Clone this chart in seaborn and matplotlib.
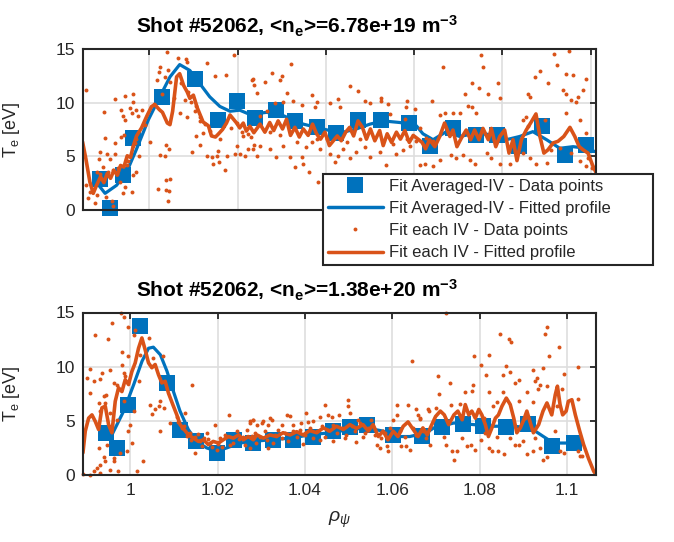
import numpy as np
import pandas as pd
import seaborn as sns
import matplotlib
matplotlib.use("Agg")
from matplotlib import pyplot as plt
from matplotlib.lines import Line2D

#%% data

# top panel: <ne> = 6.78e19
top_sq_x = [0.9889, 0.9912, 0.9940, 0.9964, 1.0028, 1.0103, 1.0156, 1.0198, 1.0240, 1.0287, 1.0331, 1.0380,
            1.0422, 1.0474, 1.0524, 1.0589, 1.0637, 1.0688, 1.0741, 1.0788, 1.0837, 1.0889, 1.0941, 1.0990]
top_sq_y = [2.85, 0.2, 3.3, 6.7, 10.55, 12.2, 8.4, 10.2, 8.6, 9.35, 8.3, 7.7,
            7.2, 8.4, 8.35, 8.1, 6.0, 7.6, 6.95, 7.0, 5.95, 7.8, 5.15, 6.1]

top_fit_x = [0.9880, 0.9900, 0.9926, 0.9949, 0.9971, 0.9998, 1.0024, 1.0047, 1.0069, 1.0092, 1.0115, 1.0137,
             1.0160, 1.0183, 1.0205, 1.0228, 1.0266, 1.0303, 1.0349, 1.0379, 1.0409, 1.0439, 1.0469, 1.0500,
             1.0530, 1.0568, 1.0605, 1.0620, 1.0643, 1.0673, 1.0703, 1.0740, 1.0779, 1.0809, 1.0839, 1.0869,
             1.0900, 1.0930, 1.0960, 1.0990, 1.1009]
top_fit_y = [2.6, 1.55, 2.3, 3.55, 5.65, 8.4, 10.55, 12.4, 13.55, 13.0, 11.75, 10.55,
             9.65, 9.2, 9.3, 8.9, 9.1, 8.8, 8.0, 7.7, 7.4, 7.25, 7.55, 8.0,
             8.3, 8.15, 7.85, 7.1, 6.55, 7.3, 6.85, 7.15, 7.0, 6.55, 6.85, 7.3,
             6.55, 5.75, 5.9, 5.75, 5.45]

top_line_x = [0.9849, 0.98566, 0.98656, 0.98732, 0.98807, 0.98898, 0.98973, 0.99049, 0.99124, 0.9920, 0.99275,
              0.99351, 0.99426, 0.99502, 0.99577, 0.99638, 0.99713, 0.99826, 0.9994, 1.00053, 1.0013, 1.0023,
              1.0030, 1.0041, 1.0047, 1.0053, 1.0062, 1.0069, 1.0078, 1.0086, 1.0092, 1.0100, 1.0109, 1.0115,
              1.0122, 1.0134, 1.0141, 1.0150, 1.0156, 1.0166, 1.0175, 1.0183, 1.0190, 1.0198, 1.0205, 1.0213,
              1.0220, 1.0228, 1.0237, 1.0251, 1.0262, 1.0273, 1.0282, 1.0292, 1.0302, 1.0311, 1.0320, 1.0330,
              1.0340, 1.0349, 1.0360, 1.0370, 1.0379, 1.0388, 1.0398, 1.0408, 1.0417, 1.0426, 1.0435, 1.0445,
              1.0454, 1.0463, 1.0473, 1.0483, 1.0492, 1.0501, 1.0511, 1.0522, 1.0530, 1.0539, 1.0549, 1.0560,
              1.0569, 1.0579, 1.0589, 1.0598, 1.0609, 1.0618, 1.0626, 1.0635, 1.0647, 1.0658, 1.0669, 1.0681,
              1.0688, 1.0697, 1.0707, 1.0718, 1.0728, 1.0737, 1.0747, 1.0756, 1.0768, 1.0775, 1.0785, 1.0794,
              1.0805, 1.0815, 1.0824, 1.0833, 1.0843, 1.0854, 1.0866, 1.0876, 1.0885, 1.0894, 1.0903, 1.0915,
              1.0926, 1.0939, 1.0953, 1.0964, 1.0974, 1.0983, 1.0994, 1.1004, 1.1012]
top_line_y = [6.35, 4.75, 2.6, 1.55, 2.3, 3.1, 2.55, 3.4, 2.95, 3.7, 3.25,
              4.15, 4.0, 5.05, 4.9, 5.95, 6.9, 7.65, 8.7, 9.65, 9.8, 9.35,
              9.1, 8.1, 7.95, 9.2, 12.4, 12.7, 11.6, 11.0, 10.4, 10.7, 9.5, 8.9,
              8.2, 7.85, 6.9, 6.8, 7.05, 7.5, 8.1, 8.85, 8.5, 8.1, 7.65, 8.1,
              7.35, 7.8, 7.2, 8.0, 7.25, 8.15, 7.4, 8.3, 7.55, 8.45, 6.95, 7.7,
              6.8, 7.55, 6.95, 8.0, 7.1, 6.6, 7.25, 6.0, 6.45, 6.9, 6.45, 7.25,
              7.7, 6.9, 8.3, 7.7, 6.6, 7.55, 6.45, 7.4, 6.0, 7.1, 6.3, 7.25,
              6.6, 7.4, 6.3, 6.95, 6.6, 6.3, 5.7, 6.55, 5.9, 6.85, 8.1, 6.85,
              7.45, 5.9, 6.7, 7.45, 6.55, 7.45, 6.55, 7.6, 6.55, 7.6, 5.9, 6.85,
              7.45, 5.3, 6.55, 4.6, 6.55, 7.45, 8.25, 8.95, 6.85, 5.3, 5.6, 6.25,
              6.4, 6.85, 7.7, 6.85, 5.9, 5.6, 5.3, 4.2, 3.5]

top_dot_x = [0.9857, 1.0041, 1.0066, 1.0083, 1.0086, 1.0024, 1.0023, 1.0043, 1.0035, 1.0048, 1.0017, 1.0131,
             1.0150, 1.0175, 1.0192, 1.0233, 1.0237, 0.9922, 0.9964, 0.9964, 0.9946, 0.9898, 0.9937, 0.9956,
             0.9960, 0.9971, 0.9975, 0.9983, 0.9945, 0.9940, 0.9899, 0.9937, 0.9943, 0.9922, 1.0002, 1.0038,
             1.0045, 1.0024, 1.0035, 0.9971, 0.9964, 0.9976, 0.9888, 0.9905, 0.9911, 0.9922, 0.9887, 0.9896,
             0.9881, 0.9888, 0.9907, 0.9919, 0.9926, 0.9949, 0.9964, 0.9971, 0.9934, 0.9945, 0.9960, 0.9940,
             0.9862, 0.9881, 0.9877, 0.9903, 0.9915, 0.9919, 0.9857, 0.9866, 1.0020, 1.0039, 1.0047, 1.0038,
             1.0045, 1.0043, 1.0096, 1.0107, 1.0121, 1.0115, 1.0132, 1.0143, 1.0153, 1.0156, 1.0145, 1.0158,
             1.0171, 1.0177, 1.0195, 1.0205, 1.0217, 1.0198, 1.0237, 1.0243, 1.0224, 1.0198, 1.0213, 1.0224,
             1.0081, 1.0088, 1.0107, 1.0103, 1.0116, 1.0085, 1.0069, 1.0115, 0.9930, 0.9952, 0.9968, 0.9990,
             1.0010, 1.0030, 1.0056, 1.0073, 1.0095, 1.0126, 1.0138, 1.0161, 1.0186, 1.0210, 1.0230,
             1.0235, 1.0262, 1.0277, 1.0296, 1.0300, 1.0322, 1.0311, 1.0326, 1.0243, 1.0284, 1.0303, 1.0345,
             1.0368, 1.0379, 1.0375, 1.0409, 1.0428, 1.0454, 1.0473, 1.0488, 1.0499, 1.0524, 1.0526, 1.0541,
             1.0583, 1.0581, 1.0602, 1.0579, 1.0545, 1.0432, 1.0250, 1.0266, 1.0235, 1.0251, 1.0273, 1.0288,
             1.0303, 1.0318, 1.0330, 1.0349, 1.0361, 1.0345, 1.0368, 1.0386, 1.0383, 1.0409, 1.0420, 1.0428,
             1.0439, 1.0454, 1.0469, 1.0488, 1.0499, 1.0522, 1.0537, 1.0560, 1.0575, 1.0590, 1.0613, 1.0273,
             1.0296, 1.0334, 1.0356, 1.0379, 1.0402, 1.0447, 1.0477, 1.0553, 1.0583, 1.0605,
             1.0666, 1.0752, 1.0756, 1.0730, 1.0715, 1.0747, 1.0768, 1.0791, 1.0795, 1.0640, 1.0722, 1.0730,
             1.0741, 1.0858, 1.0862, 1.0873, 1.0886, 1.0903, 1.0916, 1.0924, 1.0945, 1.0959, 1.0951, 1.0937,
             1.0945, 1.0966, 1.0983, 1.0990, 1.0956, 1.0971, 1.0847, 1.0854, 1.0858, 1.0896, 1.0945, 1.0975,
             1.0990, 1.0613, 1.0628, 1.0643, 1.0658, 1.0669, 1.0688, 1.0703, 1.0658, 1.0624, 1.0643, 1.0684,
             1.0696, 1.0711, 1.0726, 1.0737, 1.0764, 1.0775, 1.0794, 1.0817, 1.0832, 1.0847, 1.0862, 1.0877,
             1.0900, 1.0911, 1.0930, 1.0956, 1.0975, 1.0990, 1.1002, 1.0994]
top_dot_y = [11.2, 14.75, 14.2, 14.05, 13.8, 13.35, 12.85, 13.0, 12.4, 11.9, 12.1, 13.7,
             12.45, 12.6, 14.4, 12.15, 11.6, 10.3, 10.85, 10.1, 10.6, 9.1, 9.3, 9.5,
             9.0, 9.3, 8.8, 9.3, 8.4, 8.8, 6.75, 6.8, 6.95, 6.2, 6.3, 6.05,
             5.7, 5.1, 5.05, 6.65, 6.0, 5.05, 5.4, 5.2, 4.75, 5.2, 4.75, 4.0,
             3.55, 3.4, 3.55, 3.7, 3.4, 4.15, 3.25, 3.55, 2.6, 2.15, 1.7, 1.55,
             1.1, 1.4, 0.65, 1.25, 0.8, 0.35, 2.3, 1.7, 2.0, 2.75, 2.9, 1.85,
             1.75, 0.8, 5.45, 6.9, 7.15, 6.05, 5.0, 4.95, 5.0, 5.5, 4.3, 4.5,
             3.7, 5.05, 5.2, 5.2, 5.05, 6.0, 6.05, 5.05, 5.65, 8.1, 6.9, 7.05,
             10.25, 11.0, 9.65, 9.2, 8.7, 8.65, 9.0, 8.25, 3.9, 4.6, 6.2, 7.9,
             9.9, 10.8, 10.4, 11.8, 10.1, 8.0, 7.4, 6.6, 7.6, 7.3, 6.8,
             12.2, 11.9, 12.75, 12.1, 12.45, 13.6, 10.9, 10.15, 10.9, 10.0, 10.05, 9.75,
             10.75, 10.05, 9.55, 10.0, 10.3, 11.55, 11.05, 10.15, 10.0, 10.45, 10.2, 9.85,
             10.15, 9.55, 9.4, 8.45, 8.95, 9.55, 8.75, 9.25, 5.7, 6.0, 5.7, 4.95,
             6.0, 4.95, 4.0, 4.3, 3.55, 4.95, 6.3, 5.7, 2.65, 5.25, 4.5, 5.05,
             5.7, 4.8, 5.4, 5.85, 4.95, 5.4, 4.2, 5.25, 5.55, 6.0, 4.2, 7.25,
             6.95, 6.3, 5.85, 6.6, 6.6, 6.3, 6.6, 6.15, 6.6, 6.45,
             13.3, 14.4, 13.35, 11.8, 10.85, 11.35, 10.85, 11.8, 10.4, 10.15, 9.65, 9.55,
             9.0, 10.8, 10.55, 12.4, 12.95, 11.8, 14.5, 13.5, 12.7, 12.55, 14.8, 11.15,
             10.85, 10.1, 11.15, 12.25, 10.25, 10.55, 8.4, 8.7, 7.8, 8.4, 9.0, 8.4,
             7.15, 7.6, 6.7, 6.4, 8.85, 9.0, 9.0, 9.0, 4.7, 4.25, 4.1, 5.15,
             4.85, 5.15, 4.7, 4.25, 5.3, 4.85, 4.25, 4.25, 5.45, 5.3, 4.85, 4.25,
             4.4, 5.6, 5.75, 5.3, 4.55, 4.1, 3.9, 4.85]

# bottom panel: <ne> = 1.38e20
bot_sq_x = [0.9945, 0.9969, 0.9996, 1.0023, 1.0084, 1.0114, 1.0150, 1.0198, 1.0238, 1.0282, 1.0328, 1.0373,
            1.0419, 1.0465, 1.0503, 1.0541, 1.0602, 1.0667, 1.0713, 1.0761, 1.0808, 1.0860, 1.0910, 1.0965, 1.1015]
bot_sq_y = [3.9, 2.5, 6.5, 13.8, 8.5, 4.2, 3.1, 2.0, 3.2, 3.0, 3.2, 3.2,
            3.5, 4.1, 4.4, 4.6, 3.7, 3.6, 4.4, 4.7, 4.5, 4.4, 4.7, 2.7, 3.0]

bot_fit_x = [0.9936, 0.9958, 0.9985, 1.0008, 1.0027, 1.0042, 1.0053, 1.0069, 1.0084, 1.0099, 1.0114, 1.0133,
             1.0152, 1.0175, 1.0198, 1.0221, 1.0251, 1.0282, 1.0320, 1.0366, 1.0411, 1.0457, 1.0503, 1.0541,
             1.0579, 1.0610, 1.0640, 1.0678, 1.0695, 1.0741, 1.0787, 1.0832, 1.0878, 1.0916, 1.0946, 1.0969,
             1.1000, 1.1030]
bot_fit_y = [4.3, 3.7, 5.9, 8.35, 10.5, 11.7, 11.8, 11.1, 9.6, 7.7, 5.9, 4.2,
             3.1, 2.5, 2.2, 2.5, 2.95, 3.1, 3.25, 3.4, 3.7, 3.9, 4.2, 4.35,
             4.05, 3.55, 3.55, 3.9, 4.35, 4.8, 4.65, 4.5, 4.5, 4.35, 3.55, 2.95,
             2.95, 3.1]

bot_line_x = [0.98918, 0.98971, 0.99048, 0.99124, 0.9920, 0.99276, 0.99352, 0.99429, 0.99505, 0.99581, 0.99657,
              0.99733, 0.9981, 0.99886, 0.99962, 1.00038, 1.00114, 1.0019, 1.00267, 1.00343, 1.00419, 1.00495,
              1.00571, 1.00648, 1.00724, 1.0080, 1.00876, 1.00975, 1.01067, 1.01143, 1.01234, 1.01333, 1.01448,
              1.01562, 1.01676, 1.0179, 1.0190, 1.0202, 1.0213, 1.0225, 1.0236, 1.0248, 1.0259, 1.0270,
              1.0282, 1.0290, 1.0305, 1.0320, 1.0335, 1.0350, 1.0366, 1.0381, 1.0396, 1.0411, 1.0427, 1.0442,
              1.0457, 1.0472, 1.0488, 1.0503, 1.0518, 1.0533, 1.0545, 1.0556, 1.0568, 1.0579, 1.0590, 1.0602,
              1.0613, 1.0625, 1.0636, 1.0648, 1.0659, 1.0670, 1.0680, 1.0687, 1.0699, 1.0710, 1.0719, 1.0729,
              1.0741, 1.0750, 1.0760, 1.0767, 1.0775, 1.0782, 1.0790, 1.0798, 1.0805, 1.0813, 1.0820, 1.0828,
              1.0836, 1.0843, 1.0851, 1.0861, 1.0870, 1.0878, 1.0885, 1.0893, 1.0901, 1.0908, 1.0916, 1.0923,
              1.0935, 1.0945, 1.0954, 1.0965, 1.0973, 1.0978, 1.0984, 1.0990, 1.0998, 1.1003, 1.1011, 1.1019,
              1.1029, 1.1038, 1.1049, 1.1061, 1.1067]
bot_line_y = [2.05, 4.05, 5.25, 5.55, 4.95, 4.2, 6.2, 6.35, 4.65, 3.9, 6.8,
              8.05, 7.7, 8.8, 8.35, 9.55, 10.35, 11.7, 12.65, 11.55, 10.35, 9.9,
              10.2, 9.25, 8.5, 8.65, 7.55, 6.5, 5.55, 4.65, 4.2, 3.7, 3.4,
              3.1, 3.25, 2.8, 3.1, 2.95, 3.25, 3.55, 3.4, 3.7, 3.25, 3.55,
              3.25, 3.7, 3.4, 3.7, 3.55, 3.9, 3.7, 4.0, 3.7, 4.1, 3.9, 4.35,
              4.05, 4.5, 4.2, 4.65, 4.3, 4.65, 4.05, 4.65, 3.55, 4.05, 3.25, 4.05,
              3.55, 4.5, 4.9, 4.2, 3.55, 4.35, 3.7, 4.35, 5.4, 5.9, 5.55, 4.65,
              5.55, 5.9, 5.1, 6.5, 5.55, 5.9, 5.25, 6.05, 5.55, 4.65, 3.55, 4.35,
              5.25, 5.55, 6.35, 7.1, 6.5, 5.25, 3.9, 4.35, 5.1, 5.9, 4.8, 3.9,
              4.65, 5.9, 6.65, 5.55, 7.4, 8.2, 6.5, 5.55, 5.9, 6.8, 6.95, 5.55,
              4.05, 2.8, 1.55, 0.35, 0.0]

bot_dot_x = [0.9979, 0.9985, 0.9958, 0.9996, 0.9920, 0.9948, 1.0008, 1.0011, 1.0042, 0.9981, 0.9996, 0.9981,
             1.0023, 1.0053, 1.0075, 0.9907, 0.9935, 0.9954, 0.9901, 0.9916, 0.9931, 0.9962, 0.9970, 0.9985,
             0.9989, 1.0019, 0.9909, 0.9939, 0.9945, 0.9928, 0.9943, 0.9931, 0.9954, 0.9985, 1.0008, 0.9970,
             1.0141, 1.0046, 1.0069, 1.0065, 1.0057, 1.0050, 1.0078, 1.0091, 1.0069, 1.0107, 1.0126, 1.0122,
             1.0137, 1.0149, 1.0149, 1.0168, 1.0183, 1.0198, 1.0206, 1.0225, 1.0229, 1.0244, 1.0259, 1.0267,
             1.0274, 1.0282, 1.0290, 1.0194, 1.0175, 1.0160, 0.9893, 0.9909, 0.9916, 0.9924, 0.9931, 0.9943,
             0.9954, 0.9962, 0.9973, 0.9931, 0.9939, 0.9962, 0.9977, 0.9992, 1.0004, 1.0030, 1.0015, 0.9947,
             0.9928, 1.0000, 0.9996, 1.0110, 1.0118, 1.0130, 1.0140, 1.0155, 1.0165, 1.0178, 1.0188, 1.0200,
             1.0210, 1.0218, 1.0235, 1.0250, 1.0262, 1.0278, 1.0288,
             1.0644, 1.0447, 1.0498, 1.0499, 1.0503, 1.0478, 1.0610, 1.0636, 1.0655, 1.0682, 1.0659, 1.0663,
             1.0610, 1.0602, 1.0320, 1.0358, 1.0366, 1.0324, 1.0305, 1.0282, 1.0402, 1.0434, 1.0453, 1.0461,
             1.0522, 1.0552, 1.0419, 1.0408, 1.0390, 1.0373, 1.0347, 1.0316, 1.0301, 1.0274, 1.0274, 1.0316,
             1.0328, 1.0396, 1.0434, 1.0465, 1.0491, 1.0518, 1.0533, 1.0564, 1.0571, 1.0590, 1.0621, 1.0632,
             1.0640, 1.0587, 1.0286, 1.0297, 1.0309, 1.0312, 1.0331, 1.0339, 1.0347, 1.0354, 1.0362, 1.0373,
             1.0381, 1.0389, 1.0400, 1.0411, 1.0419, 1.0427, 1.0438, 1.0446, 1.0453, 1.0465, 1.0474, 1.0484,
             1.0495, 1.0507, 1.0514, 1.0526, 1.0537, 1.0545, 1.0560, 1.0575, 1.0583, 1.0594, 1.0617, 1.0629,
             1.0648, 1.0655, 1.0670, 1.0678,
             1.0722, 1.0847, 1.0866, 1.0872, 1.0954, 1.0950, 1.0981, 1.0958, 1.0788, 1.0821, 1.0802, 1.0860,
             1.0923, 1.0946, 1.1026, 1.0992, 1.0704, 1.0815, 1.0853, 1.0869, 1.0889, 1.0882, 1.0931, 1.0927,
             1.0937, 1.0954, 1.0731, 1.0785, 1.0783, 1.0766, 1.0821, 1.0853, 1.0908, 1.0934, 1.0988, 1.1026,
             1.0706, 1.0734, 1.0756, 1.0831, 1.0840, 1.0891, 1.0923, 1.0977, 1.0683, 1.0699, 1.0809, 1.0904,
             1.0664, 1.0680, 1.0687, 1.0718, 1.0722, 1.0737, 1.0741, 1.0748, 1.0760, 1.0771, 1.0790, 1.0779,
             1.0802, 1.0821, 1.0828, 1.0843, 1.0855, 1.0813, 1.0840, 1.0870, 1.0882, 1.0889, 1.0900, 1.0908,
             1.0927, 1.0939, 1.0946, 1.0954, 1.0973, 1.0984, 1.0992, 1.1026, 1.1029, 1.1034, 1.0923]
bot_dot_y = [14.95, 14.55, 14.0, 13.7, 12.95, 12.55, 12.95, 13.4, 12.65, 11.4, 10.95, 10.2,
             11.1, 10.8, 10.95, 9.8, 9.4, 9.7, 9.0, 8.65, 8.9, 8.5, 8.35, 9.4,
             9.1, 8.65, 7.55, 7.25, 7.35, 6.65, 6.65, 5.9, 5.7, 6.8, 5.9, 5.1,
             8.35, 6.5, 6.8, 6.35, 6.05, 5.65, 6.2, 4.8, 4.05, 5.4, 5.7, 4.5,
             3.9, 3.55, 2.05, 3.4, 2.95, 2.35, 3.4, 5.55, 2.8, 4.05, 3.55, 4.2,
             4.95, 5.1, 4.65, 4.65, 3.9, 3.1, 0.05, 0.0, 0.35, 0.65, 0.95, 1.25,
             0.5, 1.25, 0.35, 0.2, 1.7, 1.55, 2.05, 2.2, 2.95, 1.25, 0.35, 2.8,
             2.5, 4.65, 4.05, 4.9, 4.3, 3.6, 3.2, 3.8, 2.7, 3.3, 2.6, 2.9,
             2.6, 3.7, 3.0, 3.3, 2.8, 3.6, 3.0,
             10.5, 6.45, 6.95, 6.4, 5.7, 5.55, 6.5, 6.45, 6.05, 6.05, 5.55, 5.2,
             5.55, 5.1, 5.25, 5.55, 5.45, 5.1, 4.95, 5.1, 5.7, 5.4, 5.55, 5.4,
             5.1, 5.1, 4.95, 4.9, 4.8, 4.65, 4.65, 4.65, 4.8, 4.8, 2.5, 2.5,
             2.95, 2.85, 3.25, 3.1, 3.4, 3.05, 3.55, 2.8, 2.45, 2.2, 2.65, 2.65,
             2.35, 2.65, 3.9, 3.55, 4.05, 3.25, 3.7, 4.2, 3.4, 3.9, 3.1, 4.05,
             3.55, 4.2, 3.7, 4.35, 3.4, 4.05, 4.5, 3.55, 4.2, 4.65, 3.9, 4.35,
             3.7, 4.5, 4.05, 4.8, 3.9, 4.35, 3.7, 3.4, 3.9, 4.35, 4.05, 3.55,
             4.35, 3.7, 4.05, 3.4,
             15.0, 13.0, 12.55, 12.3, 13.7, 13.05, 11.8, 10.95, 11.0, 11.1, 10.2, 10.1,
             9.65, 9.9, 9.95, 9.3, 9.15, 9.2, 9.25, 9.5, 8.8, 8.5, 9.0, 8.65,
             8.35, 8.2, 8.5, 8.35, 7.8, 7.7, 7.65, 7.65, 7.65, 7.9, 7.9, 7.05,
             7.5, 6.5, 6.55, 6.35, 6.75, 6.85, 6.75, 6.35, 5.9, 6.2, 5.25, 5.3,
             5.25, 3.9, 2.8, 3.55, 2.8, 2.25, 1.4, 2.2, 3.4, 2.65, 2.3, 2.8,
             3.25, 2.5, 2.2, 2.25, 1.9, 3.9, 3.55, 3.4, 2.8, 2.8, 3.15, 1.9,
             3.4, 2.5, 1.4, 1.7, 4.05, 2.2, 2.05, 2.25, 1.8, 1.8, 2.2]

titles = ["Shot #52062, <n$_{\\mathbf{e}}$>=6.78e+19 m$^{\\mathbf{-3}}$",
          "Shot #52062, <n$_{\\mathbf{e}}$>=1.38e+20 m$^{\\mathbf{-3}}$"]
legend_labels = ["Fit Averaged-IV - Data points", "Fit Averaged-IV - Fitted profile",
                 "Fit each IV - Data points", "Fit each IV - Fitted profile"]
xtick_vals = [1.0, 1.02, 1.04, 1.06, 1.08, 1.1]
xtick_labels = ["1", "1.02", "1.04", "1.06", "1.08", "1.1"]
ytick_vals = [0, 5, 10, 15]

#%% style

blue = "#0072BD"
orange = "#D95319"
dark = "#262626"

sns.set_theme(style="white")
plt.rcParams["font.family"] = ["Liberation Sans", "DejaVu Sans"]
plt.rcParams["mathtext.fontset"] = "custom"
plt.rcParams["mathtext.rm"] = "Liberation Sans"
plt.rcParams["mathtext.it"] = "Liberation Sans:italic"
plt.rcParams["mathtext.bf"] = "Liberation Sans:bold"

fig = plt.figure(figsize=(6.74, 5.42), dpi=100)
ax_top = fig.add_axes([83/674, 1 - 210/542, 513/674, 161/542])
ax_bot = fig.add_axes([83/674, 1 - 475/542, 513/674, 162.5/542])

panels = [
    (ax_top, top_sq_x, top_sq_y, top_fit_x, top_fit_y, top_dot_x, top_dot_y, top_line_x, top_line_y, (0.985, 1.1012)),
    (ax_bot, bot_sq_x, bot_sq_y, bot_fit_x, bot_fit_y, bot_dot_x, bot_dot_y, bot_line_x, bot_line_y, (0.98919, 1.10663)),
]

for i, (ax, sqx, sqy, fx, fy, dx, dy, lx, ly, xl) in enumerate(panels):
    sns.scatterplot(x=sqx, y=sqy, ax=ax, marker="s", s=125, color=blue, linewidth=0, clip_on=False, zorder=3)
    sns.lineplot(x=fx, y=fy, ax=ax, sort=False, estimator=None, color=blue, linewidth=2.3, zorder=4)
    sns.scatterplot(x=dx, y=dy, ax=ax, marker="o", s=8, color=orange, linewidth=0, clip_on=False, zorder=5)
    sns.lineplot(x=lx, y=ly, ax=ax, sort=False, estimator=None, color=orange, linewidth=2.6, zorder=6)

    ax.set_xlim(*xl)
    ax.set_ylim(0, 15)
    ax.set_xticks(xtick_vals)
    ax.set_yticks(ytick_vals)
    ax.set_yticklabels([str(v) for v in ytick_vals])
    if i == 0:
        ax.set_xticklabels([])
    else:
        ax.set_xticklabels(xtick_labels)
    ax.grid(True, color="#dedede", linewidth=1.2)
    ax.set_axisbelow(True)
    ax.tick_params(direction="in", length=4, width=1.3, top=True, right=True,
                   labelsize=12.5, colors=dark, pad=6)
    for sp in ax.spines.values():
        sp.set_linewidth(1.5)
        sp.set_color(dark)
        sp.set_zorder(10)
    ax.set_title(titles[i], fontsize=15, fontweight="bold", x=0.417, pad=11, color="black")
    ax.set_ylabel("T$_\\mathregular{e}$ [eV]", fontsize=13, color=dark)
    ax.yaxis.set_label_coords(-0.118, 0.5)
    ax.set_xlabel("")

ax_bot.set_xlabel("$\\rho_\\psi$", fontsize=14, color=dark)
ax_bot.xaxis.set_label_coords(0.5, -0.215)

handles = [
    Line2D([], [], marker="s", color=blue, linestyle="none", markersize=11, markeredgewidth=0),
    Line2D([], [], color=blue, linewidth=2.5),
    Line2D([], [], marker="o", color=orange, linestyle="none", markersize=2.8, markeredgewidth=0),
    Line2D([], [], color=orange, linewidth=2.5),
]
leg = fig.legend(handles, legend_labels, loc="upper left", mode="expand",
                 bbox_to_anchor=(323/674, 1 - 267/542, 330/674, 93/542), bbox_transform=fig.transFigure,
                 borderaxespad=0, frameon=True, fancybox=False, framealpha=1, edgecolor=dark,
                 fontsize=12, handlelength=3.35, handletextpad=0.36, borderpad=0.27, labelspacing=0.44)
leg.get_frame().set_linewidth(1.5)
leg.set_zorder(20)

plt.savefig("out.png", dpi=100)
